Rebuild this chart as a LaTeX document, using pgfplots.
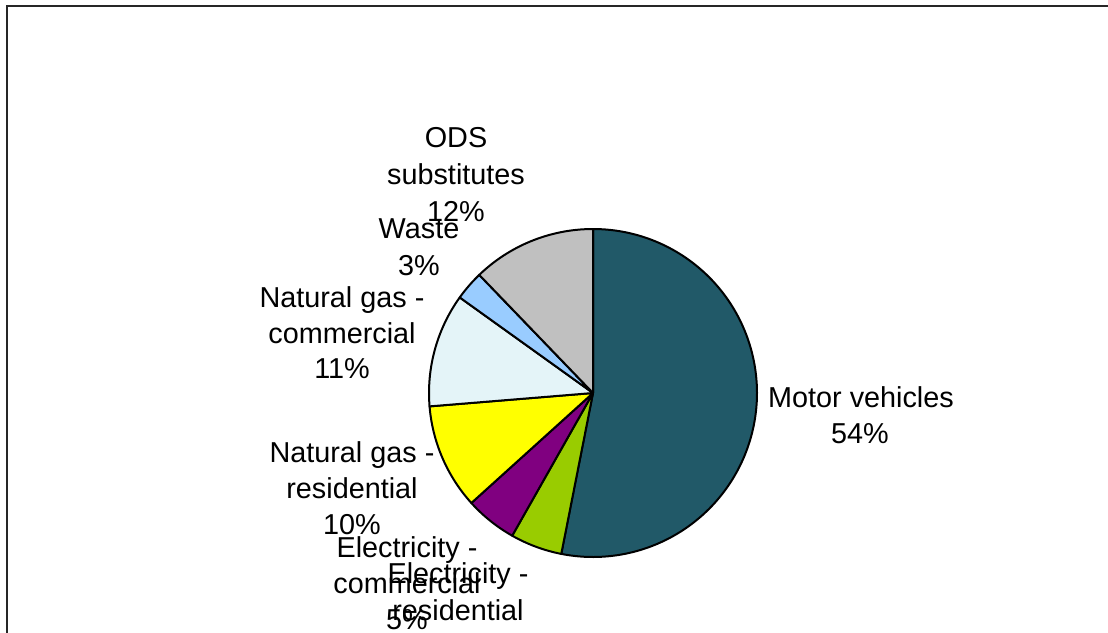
\documentclass[border=0pt]{standalone}
\usepackage{pgfplots}
\pgfplotsset{compat=1.18}
\usepackage{fontspec}
\setmainfont{Liberation Sans}
\definecolor{cMV}{HTML}{215968}
\definecolor{cER}{HTML}{99CC00}
\definecolor{cEC}{HTML}{800080}
\definecolor{cNR}{HTML}{FFFF00}
\definecolor{cNC}{HTML}{E4F4F8}
\definecolor{cWA}{HTML}{99CCFF}
\definecolor{cOD}{HTML}{C0C0C0}
\tikzset{lbl/.style={font=\fontsize{14.4pt}{18pt}\selectfont, inner sep=0pt, anchor=base}}
\begin{document}
\begin{tikzpicture}
\begin{axis}[x=0.5pt, y=0.5pt, xmin=0, xmax=1108, ymin=0, ymax=632,
  y dir=reverse, axis lines=none, clip=false]
% slices: cumulative percentages (start:end) -> angle = pct*3.6, clockwise from top
% Motor vehicles 53.1, Elec res 5.1, Elec comm 5.1, NG res 10.4, NG comm 11.2, Waste 2.9, ODS 12.2
\addplot[fill=cMV, draw=black, line width=1pt, line join=round, domain=0:53.1*3.6, samples=120, variable=\t]
  ({593+164*sin(\t)}, {393-164*cos(\t)}) -- (axis cs:593,393) -- cycle;
\addplot[fill=cER, draw=black, line width=1pt, line join=round, domain=53.1*3.6:58.2*3.6, samples=20, variable=\t]
  ({593+164*sin(\t)}, {393-164*cos(\t)}) -- (axis cs:593,393) -- cycle;
\addplot[fill=cEC, draw=black, line width=1pt, line join=round, domain=58.2*3.6:63.3*3.6, samples=20, variable=\t]
  ({593+164*sin(\t)}, {393-164*cos(\t)}) -- (axis cs:593,393) -- cycle;
\addplot[fill=cNR, draw=black, line width=1pt, line join=round, domain=63.3*3.6:73.7*3.6, samples=30, variable=\t]
  ({593+164*sin(\t)}, {393-164*cos(\t)}) -- (axis cs:593,393) -- cycle;
\addplot[fill=cNC, draw=black, line width=1pt, line join=round, domain=73.7*3.6:84.9*3.6, samples=30, variable=\t]
  ({593+164*sin(\t)}, {393-164*cos(\t)}) -- (axis cs:593,393) -- cycle;
\addplot[fill=cWA, draw=black, line width=1pt, line join=round, domain=84.9*3.6:87.8*3.6, samples=12, variable=\t]
  ({593+164*sin(\t)}, {393-164*cos(\t)}) -- (axis cs:593,393) -- cycle;
\addplot[fill=cOD, draw=black, line width=1pt, line join=round, domain=87.8*3.6:100*3.6, samples=40, variable=\t]
  ({593+164*sin(\t)}, {393-164*cos(\t)}) -- (axis cs:593,393) -- cycle;
% labels
\node[lbl] at (axis cs:861,407) {Motor vehicles};
\node[lbl] at (axis cs:860,443) {54\%};
\node[lbl] at (axis cs:456,147) {ODS};
\node[lbl] at (axis cs:456,184) {substitutes};
\node[lbl] at (axis cs:456,221) {12\%};
\node[lbl] at (axis cs:419,238) {Waste};
\node[lbl] at (axis cs:419,275) {3\%};
\node[lbl] at (axis cs:342,307) {Natural gas -};
\node[lbl] at (axis cs:342,343) {commercial};
\node[lbl] at (axis cs:342,378) {11\%};
\node[lbl] at (axis cs:352,462) {Natural gas -};
\node[lbl] at (axis cs:352,498) {residential};
\node[lbl] at (axis cs:352,534) {10\%};
\node[lbl] at (axis cs:407,557) {Electricity -};
\node[lbl] at (axis cs:407,593) {commercial};
\node[lbl] at (axis cs:407,629) {5\%};
\node[lbl] at (axis cs:458,583) {Electricity -};
\node[lbl] at (axis cs:458,620) {residential};
\node[lbl] at (axis cs:458,656) {5\%};
% frame
\draw[line width=1pt, color=black!85] (axis cs:6.5,660) -- (axis cs:6.5,5.5) -- (axis cs:1112,5.5);
\coordinate (bbA) at (axis cs:0,632);
\coordinate (bbB) at (axis cs:1108,0);
\end{axis}
\pgfresetboundingbox
\path (bbA) rectangle (bbB);
\end{tikzpicture}
\end{document}
